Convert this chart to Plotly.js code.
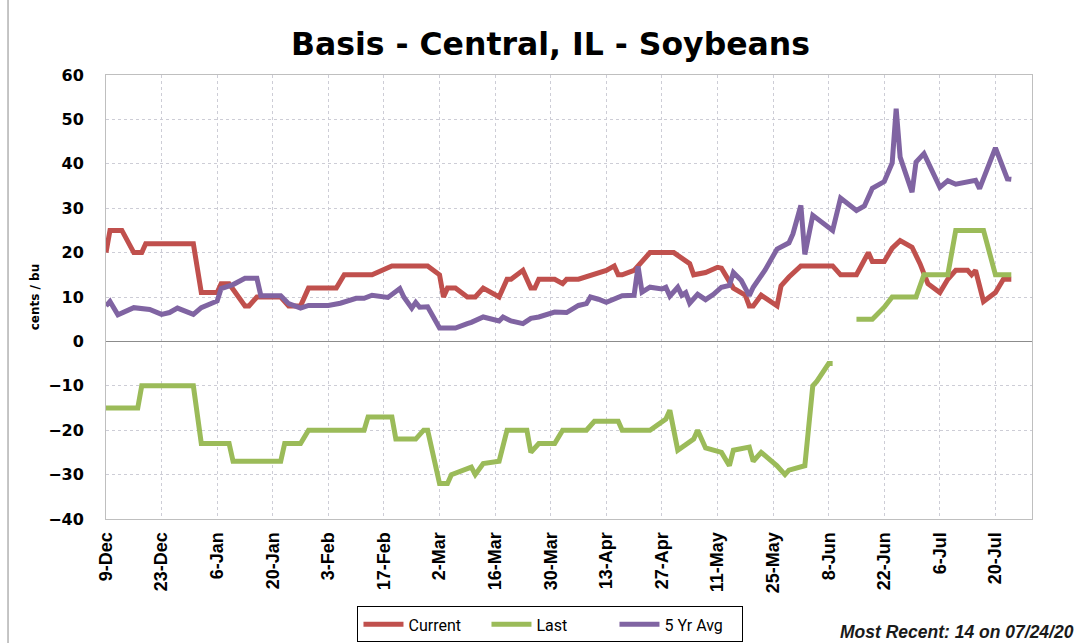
<!DOCTYPE html>
<html>
<head>
<meta charset="utf-8">
<script src="https://cdn.plot.ly/plotly-3.0.1.min.js"></script>
<style>
body{margin:0;background:#fff}
#chart{width:1083px;height:643px}
</style>
</head>
<body>
<div id="chart"></div>
<script>
// values (cents / bu)
var curDates = ['2019-12-09','2019-12-10','2019-12-13','2019-12-16','2019-12-18','2019-12-19','2019-12-31',
  '2020-01-02','2020-01-06','2020-01-07','2020-01-09','2020-01-13','2020-01-14','2020-01-16','2020-01-22','2020-01-24','2020-01-27','2020-01-29',
  '2020-02-05','2020-02-07','2020-02-14','2020-02-19','2020-02-28',
  '2020-03-02','2020-03-03','2020-03-04','2020-03-06','2020-03-09','2020-03-11','2020-03-13','2020-03-17','2020-03-19','2020-03-20','2020-03-23','2020-03-25','2020-03-26','2020-03-27','2020-03-31',
  '2020-04-02','2020-04-03','2020-04-06','2020-04-10','2020-04-13','2020-04-15','2020-04-16','2020-04-17','2020-04-20','2020-04-24','2020-04-30',
  '2020-05-04','2020-05-05','2020-05-08','2020-05-11','2020-05-12','2020-05-15','2020-05-18','2020-05-19','2020-05-20','2020-05-22','2020-05-26','2020-05-27','2020-05-29',
  '2020-06-01','2020-06-09','2020-06-11','2020-06-15','2020-06-18','2020-06-19','2020-06-22','2020-06-24','2020-06-26','2020-06-29',
  '2020-07-01','2020-07-03','2020-07-06','2020-07-08','2020-07-10','2020-07-13','2020-07-14','2020-07-15','2020-07-17','2020-07-20','2020-07-22','2020-07-24'];
var curVals = [20,25,25,20,20,22,22,
  11,11,13,13,8,8,10,10,8,8,12,
  12,15,15,17,17,
  15,10,12,12,10,10,12,10,14,14,16,12,12,14,14,
  13,14,14,15,16,17,15,15,16,20,20,
  17.5,15,15.5,16.7,16.5,12,10.4,8,8,10.4,8,12.5,14.5,
  17,17,15,15,20,18,18,21,22.7,21.2,
  17.5,13,11,14,16,16,15,16,9,11,14,14];

var lastDates = ['2019-12-09','2019-12-17','2019-12-18','2019-12-31',
  '2020-01-02','2020-01-09','2020-01-10','2020-01-22','2020-01-23','2020-01-27','2020-01-29',
  '2020-02-12','2020-02-13','2020-02-19','2020-02-20','2020-02-25','2020-02-27','2020-02-28',
  '2020-03-02','2020-03-04','2020-03-05','2020-03-10','2020-03-11','2020-03-13','2020-03-17','2020-03-19','2020-03-24','2020-03-25','2020-03-27','2020-03-31',
  '2020-04-02','2020-04-08','2020-04-10','2020-04-16','2020-04-17','2020-04-24','2020-04-28','2020-04-29',
  '2020-05-01','2020-05-05','2020-05-06','2020-05-08','2020-05-12','2020-05-14','2020-05-15','2020-05-19','2020-05-20','2020-05-22','2020-05-26','2020-05-28','2020-05-29',
  '2020-06-02','2020-06-04','2020-06-05','2020-06-08','2020-06-09','2020-06-12','2020-06-15','2020-06-19','2020-06-22','2020-06-24','2020-06-30',
  '2020-07-02','2020-07-08','2020-07-10','2020-07-17','2020-07-20','2020-07-24'];
var lastVals = [-15,-15,-10,-10,
  -23,-23,-27,-27,-23,-23,-20,
  -20,-17,-17,-22,-22,-20,-20,
  -32,-32,-30,-28.3,-30,-27.5,-27,-20,-20,-25,-23,-23,
  -20,-20,-18,-18,-20,-20,-17.5,-15.5,
  -24.5,-22,-20,-24,-25,-28,-24.5,-23.8,-27,-25,-28,-30,-29,
  -28,-10,-9,-5,-5,null,5,5,7.7,10,10,
  15,15,25,25,15,15];

var avgDates = ['2019-12-09','2019-12-10','2019-12-12','2019-12-16','2019-12-20','2019-12-23','2019-12-25','2019-12-27','2019-12-31',
  '2020-01-02','2020-01-06','2020-01-07','2020-01-10','2020-01-13','2020-01-16','2020-01-17','2020-01-22','2020-01-24','2020-01-27','2020-01-29',
  '2020-02-03','2020-02-06','2020-02-10','2020-02-12','2020-02-14','2020-02-18','2020-02-21','2020-02-22','2020-02-24','2020-02-25','2020-02-26','2020-02-28',
  '2020-03-02','2020-03-06','2020-03-09','2020-03-10','2020-03-13','2020-03-17','2020-03-18','2020-03-20','2020-03-23','2020-03-25','2020-03-27','2020-03-30','2020-03-31',
  '2020-04-03','2020-04-06','2020-04-08','2020-04-09','2020-04-11','2020-04-13','2020-04-17','2020-04-20','2020-04-21','2020-04-22','2020-04-24','2020-04-27','2020-04-28','2020-04-29',
  '2020-05-01','2020-05-02','2020-05-03','2020-05-04','2020-05-06','2020-05-08','2020-05-10','2020-05-12','2020-05-14','2020-05-15','2020-05-17','2020-05-19','2020-05-20','2020-05-23','2020-05-26','2020-05-29','2020-05-30',
  '2020-06-01','2020-06-02','2020-06-04','2020-06-09','2020-06-11','2020-06-15','2020-06-17','2020-06-19','2020-06-22','2020-06-24','2020-06-25','2020-06-26','2020-06-29','2020-06-30',
  '2020-07-02','2020-07-06','2020-07-08','2020-07-10','2020-07-13','2020-07-15','2020-07-16','2020-07-20','2020-07-23','2020-07-24'];
var avgVals = [8,9,6,7.6,7.2,6.1,6.5,7.5,6.1,
  7.6,9.1,11.9,12.8,14.2,14.2,10.3,10.3,8.5,7.5,8.1,
  8.1,8.6,9.7,9.7,10.4,9.9,11.9,10,7.5,8.8,7.7,7.8,
  3,3,4,4.3,5.5,4.6,5.5,4.6,4,5.2,5.5,6.3,6.6,
  6.5,8.1,8.5,10,9.5,8.8,10.3,10.4,16.9,11.1,12.2,11.8,12.2,10.2,
  12.2,10.4,11,8.6,10.6,9.4,10.6,12.2,12.6,15.5,13.7,10.3,12.2,16.1,20.8,22.2,24.2,
  30.6,19.6,28.4,25,32.3,29.5,30.5,34.5,36,40.2,52.4,41.5,33.6,40.4,
  42.3,34.7,36.2,35.4,36,36.3,34.4,43.6,36.6,36.5];

var xRange = ['2019-12-09','2020-07-29 05:00'];
var twoWeeks = 14 * 86400000;

var data = [{
    x: curDates, y: curVals, name: 'Current',
    type: 'scatter', mode: 'lines',
    line: {color: '#c0504d', width: 5}
  },{
    x: lastDates, y: lastVals, name: 'Last',
    type: 'scatter', mode: 'lines',
    line: {color: '#9bbb59', width: 5}
  },{
    x: avgDates, y: avgVals, name: '5 Yr Avg',
    type: 'scatter', mode: 'lines',
    line: {color: '#8064a2', width: 5}
}];

var gridCol = '#cdcdd6';

var layout = {
  width: 1083, height: 643,
  paper_bgcolor: '#fff', plot_bgcolor: '#fff',
  margin: {l: 106, r: 51, t: 75, b: 124, autoexpand: false},
  showlegend: true,
  title: {
    text: 'Basis - Central, IL - Soybeans',
    font: {family: 'DejaVu Sans', size: 31.5, weight: 'bold', color: '#000'},
    xref: 'paper', x: 0.48, xanchor: 'center',
    yref: 'container', y: 0.932, yanchor: 'middle'
  },
  xaxis: {
    type: 'date', range: xRange, automargin: false,
    tick0: '2019-12-09', dtick: twoWeeks, tickformat: '%-d-%b',
    tickangle: -90, ticks: '', ticklabelstandoff: 5,
    tickfont: {family: 'Liberation Sans', size: 18, weight: 'bold', color: '#000'},
    showgrid: true, gridcolor: gridCol, griddash: 'dot', gridwidth: 1,
    showline: true, linecolor: '#bfbfbf', linewidth: 1, mirror: true,
    zeroline: false
  },
  // tick marks sitting on the zero line
  xaxis2: {
    type: 'date', range: xRange, overlaying: 'x', anchor: 'free', position: 0.4,
    tick0: '2019-12-09', dtick: twoWeeks,
    ticks: 'outside', ticklen: 6, tickcolor: '#8c8c8c', tickwidth: 1,
    showticklabels: false, showgrid: false, showline: false, zeroline: false
  },
  yaxis: {
    range: [-40, 60], dtick: 10, ticks: '', ticklabelstandoff: 18, automargin: false,
    tickfont: {family: 'DejaVu Sans', size: 16, weight: 'bold', color: '#000'},
    showgrid: true, gridcolor: gridCol, griddash: 'dot', gridwidth: 1,
    zeroline: true, zerolinecolor: '#8c8c8c', zerolinewidth: 1.5,
    showline: true, linecolor: '#bfbfbf', linewidth: 1, mirror: true,
    title: {text: 'cents / bu', standoff: 5,
      font: {family: 'DejaVu Sans', size: 12, weight: 'bold', color: '#000'}}
  },
  legend: {
    orientation: 'h', x: 0.48, xanchor: 'center', y: -0.197, yanchor: 'top',
    bordercolor: '#000', borderwidth: 1, bgcolor: '#fff',
    font: {family: 'Roboto', size: 16, color: '#000'},
    itemwidth: 40, entrywidth: 73, entrywidthmode: 'pixels', tracegroupgap: 0
  },
  annotations: [{
    text: 'Most Recent: 14 on 07/24/20',
    xref: 'paper', x: 1.0475, xanchor: 'right',
    yref: 'paper', y: -0.2545, yanchor: 'middle',
    showarrow: false,
    font: {family: 'Liberation Sans', size: 17.5, weight: 'bold', style: 'italic', color: '#1a1a1a'}
  }],
  shapes: [{
    type: 'line', xref: 'paper', yref: 'paper',
    x0: -0.1058, x1: -0.1058, y0: -0.3, y1: 1.2,
    line: {color: '#8c8c8c', width: 1}
  }]
};

Plotly.newPlot('chart', data, layout, {displayModeBar: false, staticPlot: true});
</script>
</body>
</html>
